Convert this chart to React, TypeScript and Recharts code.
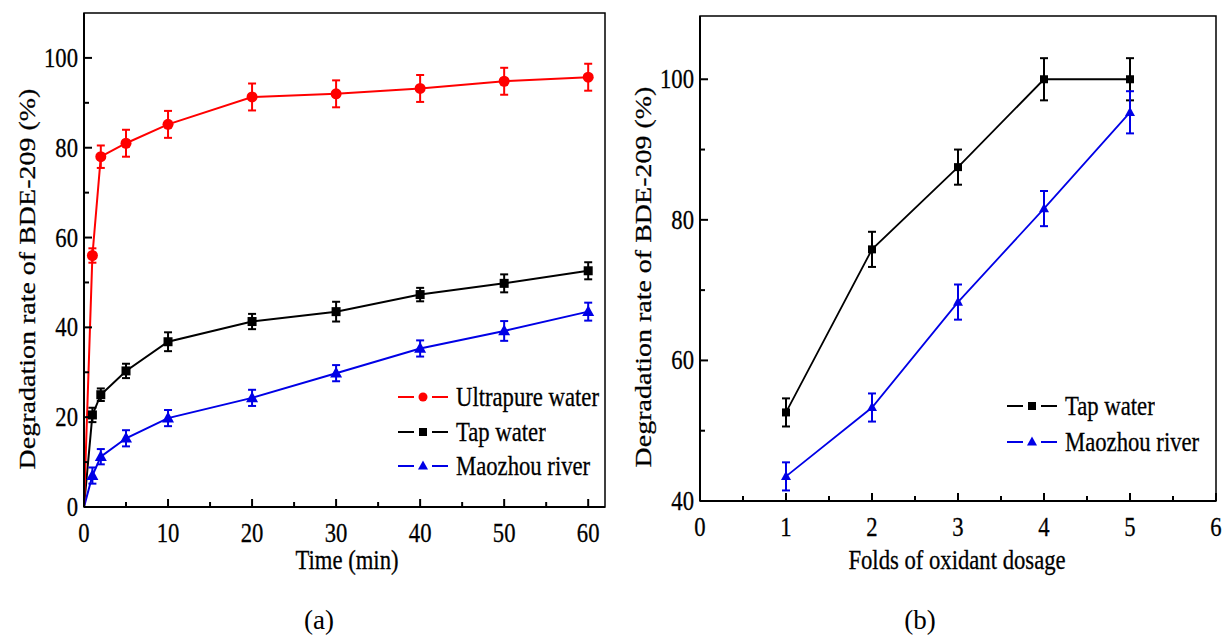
import React from "react";
import { LineChart, Line, XAxis, YAxis, ErrorBar, ReferenceArea, Label } from "recharts";

const SERIF = '"Liberation Serif", "Times New Roman", serif';
const SQUEEZE = 0.84;
const RED = "#ff0000";
const BLUE = "#0000e6";

// (a) degradation vs time
const timeMin = [0, 1, 2, 5, 10, 20, 30, 40, 50, 60];
const ultrapure = [0, 56, 78, 81, 85.2, 91.3, 92, 93.2, 94.8, 95.7];
const ultrapureErr = [0, 1.6, 2.5, 3, 3, 3, 3, 3, 3, 3];
const tapTime = [0, 20.5, 25, 30.3, 36.8, 41.3, 43.5, 47.3, 49.8, 52.6];
const tapTimeErr = [0, 1.6, 1.4, 1.6, 2.1, 1.7, 2.2, 1.5, 2, 1.9];
const maozhouTime = [0, 7, 11.2, 15.3, 19.8, 24.3, 29.8, 35.3, 39.2, 43.5];
const maozhouTimeErr = [0, 1.8, 1.7, 1.8, 1.8, 1.8, 1.8, 1.8, 2.2, 2];
const timeTicks = [0, 5, 10, 15, 20, 25, 30, 35, 40, 45, 50, 55, 60];
const rateTicksA = [0, 10, 20, 30, 40, 50, 60, 70, 80, 90, 100];

// (b) degradation vs oxidant dosage
const folds = [1, 2, 3, 4, 5];
const tapFold = [52.6, 75.8, 87.5, 100, 100];
const tapFoldErr = [2, 2.5, 2.5, 3, 3];
const maozhouFold = [43.5, 53.3, 68.3, 81.6, 95.3];
const maozhouFoldErr = [2, 2, 2.5, 2.5, 3];
const foldTicks = [0, 0.5, 1, 1.5, 2, 2.5, 3, 3.5, 4, 4.5, 5, 5.5, 6];
const rateTicksB = [40, 50, 60, 70, 80, 90, 100];

const timeData = timeMin.map((t, i) => ({
  t,
  ultra: ultrapure[i],
  ultraErr: ultrapureErr[i],
  tap: tapTime[i],
  tapErr: tapTimeErr[i],
  mao: maozhouTime[i],
  maoErr: maozhouTimeErr[i],
}));

const foldData = folds.map((f, i) => ({
  f,
  tap: tapFold[i],
  tapErr: tapFoldErr[i],
  mao: maozhouFold[i],
  maoErr: maozhouFoldErr[i],
}));

const renderXTick = (p: any, isMajor: (v: number) => boolean) => {
  const { x, y, payload } = p;
  const major = isMajor(payload.value);
  return (
    <g key={`xt-${payload.value}`}>
      <line x1={x} x2={x} y1={y} y2={y - (major ? 8 : 5)} stroke="#000" strokeWidth={2} />
      {major && (
        <text
          transform={`translate(${x},${y + 35}) scale(${SQUEEZE},1)`}
          textAnchor="middle"
          fontFamily={SERIF}
          fontSize={27}
          fill="#000"
          stroke="#000"
          strokeWidth={0.3}
        >
          {payload.value}
        </text>
      )}
    </g>
  );
};

const renderYTick = (p: any, isMajor: (v: number) => boolean) => {
  const { x, y, payload } = p;
  const major = isMajor(payload.value);
  return (
    <g key={`yt-${payload.value}`}>
      <line x1={x} x2={x + (major ? 8 : 5)} y1={y} y2={y} stroke="#000" strokeWidth={2} />
      {major && (
        <text
          transform={`translate(${x - 6},${y + 9}) scale(${SQUEEZE},1)`}
          textAnchor="end"
          fontFamily={SERIF}
          fontSize={27}
          fill="#000"
          stroke="#000"
          strokeWidth={0.3}
        >
          {payload.value}
        </text>
      )}
    </g>
  );
};

const circleDot = (r: number, color: string) => (p: any) => {
  const { cx, cy, index, payload } = p;
  if (cx == null || payload.t === 0) return <g key={`c-${index}`} />;
  return <circle key={`c-${index}`} cx={cx} cy={cy} r={r} fill={color} />;
};

const squareDot = (size: number, color: string) => (p: any) => {
  const { cx, cy, index, payload } = p;
  if (cx == null || payload.t === 0) return <g key={`s-${index}`} />;
  return <rect key={`s-${index}`} x={cx - size / 2} y={cy - size / 2} width={size} height={size} fill={color} />;
};

const triangleDot = (w: number, color: string) => (p: any) => {
  const { cx, cy, index, payload } = p;
  if (cx == null || payload.t === 0) return <g key={`t-${index}`} />;
  const h = w * 0.9;
  return (
    <polygon
      key={`t-${index}`}
      points={`${cx},${cy - h * 0.6} ${cx - w / 2},${cy + h * 0.4} ${cx + w / 2},${cy + h * 0.4}`}
      fill={color}
    />
  );
};

const YTitle = ({ x, y }: { x: number; y: number }) => (
  <text
    transform={`translate(${x},${y}) rotate(-90) scale(1,${SQUEEZE})`}
    textAnchor="middle"
    dominantBaseline="central"
    fontFamily={SERIF}
    fontSize={28}
    fill="#000"
    stroke="#000"
    strokeWidth={0.3}
  >
    Degradation rate of BDE-209 (%)
  </text>
);

const XTitle = ({ x, y, text }: { x: number; y: number; text: string }) => (
  <text
    transform={`translate(${x},${y}) scale(${SQUEEZE},1)`}
    textAnchor="middle"
    fontFamily={SERIF}
    fontSize={27}
    fill="#000"
    stroke="#000"
    strokeWidth={0.3}
  >
    {text}
  </text>
);

const Marker = ({ kind, color }: { kind: string; color: string }) => {
  if (kind === "circle") return <circle cx={25} cy={15} r={4.5} fill={color} />;
  if (kind === "square") return <rect x={21} y={11} width={8} height={8} fill={color} />;
  return <polygon points="25,9.5 20,18.5 30,18.5" fill={color} />;
};

const LegendRow = ({ left, top, color, kind, text }: any) => (
  <div style={{ position: "absolute", left, top: top - 15, height: 30, display: "flex", alignItems: "center" }}>
    <svg width={50} height={30}>
      <line x1={0} x2={16} y1={15} y2={15} stroke={color} strokeWidth={2} />
      <line x1={34} x2={50} y1={15} y2={15} stroke={color} strokeWidth={2} />
      <Marker kind={kind} color={color} />
    </svg>
    <span
      style={{
        marginLeft: 8,
        fontFamily: SERIF,
        fontSize: 27,
        lineHeight: "30px",
        whiteSpace: "nowrap",
        transform: `scaleX(${SQUEEZE})`,
        transformOrigin: "left center",
        color: "#000",
        WebkitTextStroke: "0.3px #000",
      }}
    >
      {text}
    </span>
  </div>
);

const Caption = ({ x, text }: { x: number; text: string }) => (
  <div
    style={{
      position: "absolute",
      left: x - 30,
      width: 60,
      top: 604,
      textAlign: "center",
      fontFamily: SERIF,
      fontSize: 27,
      lineHeight: "32px",
      color: "#000",
    }}
  >
    {text}
  </div>
);

export default function App() {
  return (
    <div style={{ position: "absolute", left: 0, top: 0, width: 1225, height: 636, background: "#fff", overflow: "hidden" }}>
      <div style={{ position: "absolute", left: 0, top: 0 }}>
        <LineChart width={620} height={600} data={timeData} margin={{ top: 13, right: 15, bottom: 0, left: 0 }}>
          <XAxis
            type="number"
            dataKey="t"
            domain={[0, 62]}
            ticks={timeTicks}
            interval={0}
            height={93}
            tickSize={0}
            tickMargin={0}
            tickLine={false}
            axisLine={{ stroke: "#000", strokeWidth: 2 }}
            tick={(p: any) => renderXTick(p, (v) => v % 10 === 0)}
          >
            <Label content={() => <XTitle x={347} y={569} text="Time (min)" />} />
          </XAxis>
          <YAxis
            type="number"
            domain={[0, 110]}
            ticks={rateTicksA}
            interval={0}
            width={84}
            tickSize={0}
            tickMargin={0}
            tickLine={false}
            axisLine={{ stroke: "#000", strokeWidth: 2 }}
            tick={(p: any) => renderYTick(p, (v) => v % 20 === 0)}
          >
            <Label content={() => <YTitle x={27} y={279} />} />
          </YAxis>
          <ReferenceArea x1={0} x2={62} y1={0} y2={110} fill="none" stroke="#000" strokeWidth={1.5} />
          <Line
            dataKey="tap"
            stroke="#000"
            strokeWidth={2}
            dot={squareDot(9, "#000")}
            activeDot={false}
            isAnimationActive={false}
          >
            <ErrorBar dataKey="tapErr" direction="y" width={4} stroke="#000" strokeWidth={2} isAnimationActive={false} />
          </Line>
          <Line
            dataKey="mao"
            stroke={BLUE}
            strokeWidth={2}
            dot={triangleDot(12, BLUE)}
            activeDot={false}
            isAnimationActive={false}
          >
            <ErrorBar dataKey="maoErr" direction="y" width={4} stroke={BLUE} strokeWidth={2} isAnimationActive={false} />
          </Line>
          <Line
            dataKey="ultra"
            stroke={RED}
            strokeWidth={2}
            dot={circleDot(5.5, RED)}
            activeDot={false}
            isAnimationActive={false}
          >
            <ErrorBar dataKey="ultraErr" direction="y" width={4} stroke={RED} strokeWidth={2} isAnimationActive={false} />
          </Line>
        </LineChart>
      </div>

      <div style={{ position: "absolute", left: 616, top: 0 }}>
        <LineChart width={609} height={600} data={foldData} margin={{ top: 16, right: 9, bottom: 0, left: 0 }}>
          <XAxis
            type="number"
            dataKey="f"
            domain={[0, 6]}
            ticks={foldTicks}
            interval={0}
            height={99}
            tickSize={0}
            tickMargin={0}
            tickLine={false}
            axisLine={{ stroke: "#000", strokeWidth: 2 }}
            tick={(p: any) => renderXTick(p, (v) => Number.isInteger(v))}
          >
            <Label content={() => <XTitle x={341} y={569} text="Folds of oxidant dosage" />} />
          </XAxis>
          <YAxis
            type="number"
            domain={[40, 109]}
            ticks={rateTicksB}
            interval={0}
            width={84}
            tickSize={0}
            tickMargin={0}
            tickLine={false}
            axisLine={{ stroke: "#000", strokeWidth: 2 }}
            tick={(p: any) => renderYTick(p, (v) => v % 20 === 0)}
          >
            <Label content={() => <YTitle x={27} y={277} />} />
          </YAxis>
          <ReferenceArea x1={0} x2={6} y1={40} y2={109} fill="none" stroke="#000" strokeWidth={1.5} />
          <Line
            dataKey="tap"
            stroke="#000"
            strokeWidth={1.8}
            dot={squareDot(8, "#000")}
            activeDot={false}
            isAnimationActive={false}
          >
            <ErrorBar dataKey="tapErr" direction="y" width={4} stroke="#000" strokeWidth={2} isAnimationActive={false} />
          </Line>
          <Line
            dataKey="mao"
            stroke={BLUE}
            strokeWidth={1.8}
            dot={triangleDot(10, BLUE)}
            activeDot={false}
            isAnimationActive={false}
          >
            <ErrorBar dataKey="maoErr" direction="y" width={4} stroke={BLUE} strokeWidth={2} isAnimationActive={false} />
          </Line>
        </LineChart>
      </div>

      <LegendRow left={398} top={397} color={RED} kind="circle" text="Ultrapure water" />
      <LegendRow left={398} top={432} color="#000" kind="square" text="Tap water" />
      <LegendRow left={398} top={466} color={BLUE} kind="triangle" text="Maozhou river" />

      <LegendRow left={1007} top={406} color="#000" kind="square" text="Tap water" />
      <LegendRow left={1007} top={442} color={BLUE} kind="triangle" text="Maozhou river" />

      <Caption x={319} text="(a)" />
      <Caption x={920} text="(b)" />
    </div>
  );
}
